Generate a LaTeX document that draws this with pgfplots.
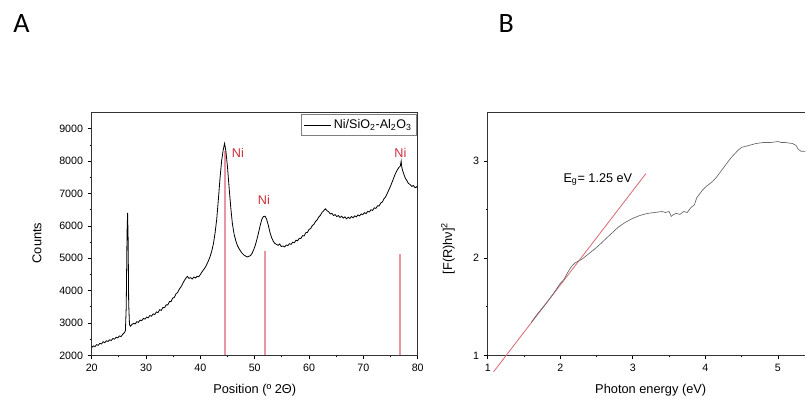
\documentclass[border=0pt]{standalone}
\usepackage{fontspec}
\setmainfont{Liberation Sans}
\newfontfamily\carlito{Carlito}
\usepackage{pgfplots}
\pgfplotsset{compat=1.18}
\definecolor{nired}{HTML}{CC2F3A}
\definecolor{peakred}{RGB}{234,150,162}
\definecolor{fitred}{HTML}{D9707A}
\definecolor{axgray}{HTML}{333333}
\begin{document}
\begin{tikzpicture}
\path (0,0) rectangle (604.5pt,298.5pt);
\pgfplotsset{
  common/.style={
    scale only axis, anchor=south west,
    axis line style={axgray, line width=0.7pt},
    tick style={black, line width=0.6pt},
    tick align=outside, xtick pos=bottom, ytick pos=left,
    major tick length=3pt, minor tick length=1.6pt,
    minor x tick num=1, minor y tick num=1,
    /pgf/number format/assume math mode=true,
    tick label style={font=\fontsize{8}{9}\selectfont},
    label style={font=\fontsize{9.6}{11}\selectfont},
  }
}
% Panel A
\begin{axis}[common,
  at={(68.8pt,32.0pt)}, width=244.5pt, height=182pt,
  xmin=20, xmax=80, ymin=2000, ymax=9500,
  xtick={20,30,...,80}, ytick={2000,3000,...,9000},
  scaled y ticks=false,
  yticklabel style={/pgf/number format/set thousands separator={}},
  xlabel={Position (º 2Θ)}, ylabel={Counts},
  xlabel style={at={(axis description cs:0.5,-0.143)}, anchor=center},
  ylabel style={at={(axis description cs:-0.168,0.463)}, anchor=center},
  legend style={at={(axis description cs:0.997,0.993)}, anchor=north east,
    draw=gray, line width=0.5pt, font=\fontsize{9.4}{10}\selectfont,
    inner sep=1.5pt, row sep=0pt},
  legend cell align=left,
  legend image code/.code={\draw[#1] (0cm,0cm) -- (0.7cm,0cm);},
]
\addplot[draw=peakred, line width=1.4pt, forget plot] coordinates {(44.6,2000)(44.6,8300)};
\addplot[draw=peakred, line width=1.4pt, forget plot] coordinates {(51.95,2000)(51.95,5230)};
\addplot[draw=peakred, line width=1.4pt, forget plot] coordinates {(76.7,2000)(76.7,5120)};
\addplot[black, line width=0.6pt] coordinates {
(20.0,2240)(20.3,2290)(20.6,2270)(20.9,2330)(21.2,2310)(21.5,2370)(21.8,2350)
(22.1,2420)(22.4,2390)(22.7,2450)(23.0,2430)(23.3,2480)(23.6,2460)(23.9,2520)
(24.2,2500)(24.5,2560)(24.8,2540)(25.1,2600)(25.4,2580)(25.7,2650)(26.0,2700)
(26.2,2760)(26.35,3500)(26.5,5800)(26.6,6400)(26.7,5600)(26.8,3600)(26.95,2950)
(27.1,2900)(27.4,2950)(27.7,2990)(28.0,2970)(28.3,3040)(28.6,3020)(28.9,3090)
(29.2,3070)(29.5,3140)(29.8,3120)(30.1,3180)(30.4,3160)(30.7,3230)(31.0,3210)
(31.3,3280)(31.6,3260)(31.9,3340)(32.2,3320)(32.5,3410)(32.8,3390)(33.1,3480)
(33.4,3470)(33.7,3560)(34.0,3560)(34.3,3660)(34.6,3660)(34.9,3770)(35.2,3790)
(35.5,3900)(35.8,3940)(36.1,4040)(36.4,4110)(36.7,4200)(37.0,4300)(37.3,4380)
(37.6,4440)(37.9,4380)(38.2,4400)(38.5,4360)(38.8,4420)(39.1,4390)(39.4,4440)
(39.7,4430)(40.0,4500)(40.3,4580)(40.6,4650)(40.9,4720)(41.2,4820)(41.5,4930)
(41.8,5060)(42.1,5230)(42.4,5450)(42.7,5780)(43.0,6200)(43.3,6800)(43.6,7450)
(43.9,8000)(44.2,8350)(44.45,8550)(44.7,8300)(45.0,7800)(45.3,7150)(45.6,6550)
(45.9,6050)(46.2,5750)(46.5,5550)(46.8,5400)(47.1,5300)(47.4,5220)(47.7,5150)
(48.0,5100)(48.3,5070)(48.6,5040)(48.9,5060)(49.2,5080)(49.5,5150)(49.8,5260)
(50.1,5400)(50.4,5580)(50.7,5790)(51.0,6010)(51.3,6200)(51.6,6290)(51.9,6300)
(52.2,6200)(52.5,6020)(52.8,5800)(53.1,5640)(53.4,5530)(53.7,5460)(54.0,5430)
(54.3,5400)(54.6,5440)(54.9,5360)(55.2,5380)(55.5,5350)(55.8,5410)(56.1,5390)
(56.4,5450)(56.7,5430)(57.0,5500)(57.3,5480)(57.6,5560)(57.9,5540)(58.2,5620)
(58.5,5610)(58.8,5700)(59.1,5690)(59.4,5790)(59.7,5800)(60.0,5890)(60.3,5920)
(60.6,6010)(60.9,6050)(61.2,6140)(61.5,6190)(61.8,6280)(62.1,6330)(62.4,6420)
(62.7,6470)(63.0,6530)(63.3,6470)(63.6,6440)(63.9,6370)(64.2,6390)(64.5,6320)
(64.8,6350)(65.1,6290)(65.4,6320)(65.7,6260)(66.0,6300)(66.3,6240)(66.6,6280)
(66.9,6220)(67.2,6270)(67.5,6230)(67.8,6290)(68.1,6250)(68.4,6310)(68.7,6280)
(69.0,6340)(69.3,6310)(69.6,6370)(69.9,6350)(70.2,6410)(70.5,6380)(70.8,6450)
(71.1,6430)(71.4,6500)(71.7,6480)(72.0,6560)(72.3,6540)(72.6,6620)(72.9,6620)
(73.2,6710)(73.5,6740)(73.8,6840)(74.1,6900)(74.4,7010)(74.7,7120)(75.0,7230)
(75.3,7360)(75.6,7490)(75.9,7620)(76.2,7720)(76.5,7800)(76.8,7850)(76.95,8000)
(77.1,7780)(77.4,7620)(77.7,7480)(78.0,7400)(78.3,7310)(78.6,7280)(78.9,7220)
(79.2,7250)(79.5,7180)(79.8,7210)(80.0,7160)
};
\addlegendentry{Ni/SiO\textsubscript{2}-Al\textsubscript{2}O\textsubscript{3}}
\node[text=nired, font=\fontsize{9.5}{11}\selectfont] at (axis cs:46.9,8270) {Ni};
\node[text=nired, font=\fontsize{9.5}{11}\selectfont] at (axis cs:51.7,6800) {Ni};
\node[text=nired, font=\fontsize{9.5}{11}\selectfont] at (axis cs:76.8,8270) {Ni};
\end{axis}
% Panel B
\begin{axis}[common,
  at={(365.8pt,32.0pt)}, width=238.3pt, height=182.2pt,
  xmin=1, xmax=5.38, ymin=1, ymax=3.5,
  axis lines*=left,
  xtick={1,2,3,4,5}, ytick={1,2,3},
  clip=false,
  xlabel={Photon energy (eV)}, ylabel={[F(R)hν]\textsuperscript{2}},
  xlabel style={at={(axis description cs:0.513,-0.143)}, anchor=center},
  ylabel style={at={(axis description cs:-0.125,0.44)}, anchor=center},
]
\draw[axgray, line width=0.7pt] (rel axis cs:0,1) -- (rel axis cs:1,1);
\addplot[fitred, line width=0.65pt] coordinates {(1.08,0.83)(3.18,2.87)};
\addplot[black!60, line width=0.5pt] coordinates {
(1.60,1.34)(1.70,1.44)(1.80,1.53)(1.90,1.63)(2.00,1.74)(2.05,1.78)(2.10,1.85)
(2.15,1.91)(2.20,1.95)(2.25,1.97)(2.30,1.99)(2.40,2.05)(2.50,2.11)(2.60,2.18)
(2.70,2.25)(2.80,2.32)(2.90,2.37)(3.00,2.41)(3.10,2.44)(3.20,2.46)(3.30,2.47)
(3.40,2.48)(3.45,2.47)(3.50,2.48)(3.53,2.43)(3.56,2.45)(3.60,2.46)(3.65,2.45)
(3.70,2.48)(3.75,2.47)(3.80,2.52)(3.85,2.55)(3.88,2.62)(3.92,2.66)(3.96,2.70)
(4.00,2.73)(4.05,2.76)(4.10,2.79)(4.15,2.83)(4.20,2.88)(4.25,2.93)(4.30,2.98)
(4.35,3.03)(4.40,3.07)(4.45,3.11)(4.50,3.14)(4.55,3.15)(4.60,3.16)(4.70,3.18)
(4.80,3.19)(4.90,3.19)(5.00,3.20)(5.05,3.19)(5.10,3.19)(5.20,3.18)(5.25,3.16)
(5.28,3.12)(5.32,3.10)(5.38,3.10)
};
\node[anchor=west, font=\fontsize{9.5}{11}\selectfont] at (axis cs:1.98,2.81) {E\textsubscript{g}= 1.25 eV};
\end{axis}
\node[anchor=base west, font=\carlito\fontsize{21}{24}\selectfont] at (6.5pt,274.3pt) {A};
\node[anchor=base west, font=\carlito\fontsize{21}{24}\selectfont] at (370.5pt,274.3pt) {B};
\end{tikzpicture}
\end{document}
